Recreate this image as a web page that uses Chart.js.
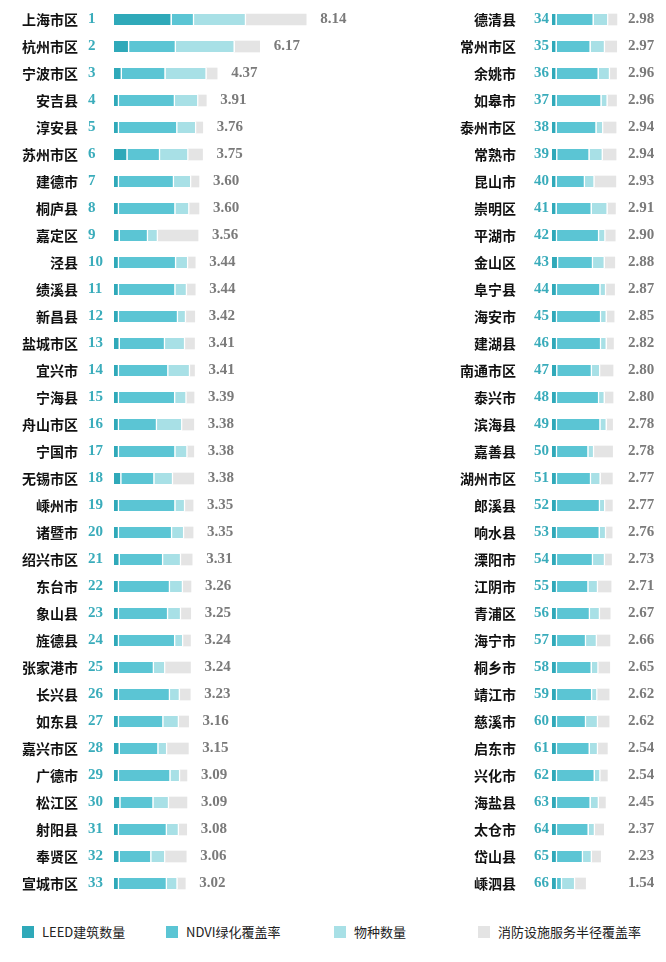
<!DOCTYPE html>
<html><head><meta charset="utf-8">
<script src="https://cdn.jsdelivr.net/npm/chart.js@4"></script>
<style>
body{margin:0;width:666px;height:962px;background:#fff;position:relative;overflow:hidden;font-family:"Noto Sans CJK SC",sans-serif}
.cv{position:absolute}
#legend{position:absolute;top:922px;left:0;width:666px;height:20px;font-size:13px;color:#222}
#legend span{position:absolute;top:0;line-height:20px}
#legend i{position:absolute;top:4px;width:12px;height:12px}
</style></head>
<body>
<div class="cv" style="left:0;top:6px;width:360px;height:891px"><canvas id="c1"></canvas></div>
<div class="cv" style="left:440px;top:6px;width:226px;height:891px"><canvas id="c2"></canvas></div>
<div id="legend">
<i style="left:22px;background:#2fa9b9"></i><span style="left:42px">LEED建筑数量</span>
<i style="left:166px;background:#5bc5d4"></i><span style="left:186px">NDVI绿化覆盖率</span>
<i style="left:334px;background:#a8e0e6"></i><span style="left:354px">物种数量</span>
<i style="left:478px;background:#e4e4e4"></i><span style="left:498px">消防设施服务半径覆盖率</span>
</div>
<script>
// 区县名称与总分
const names = ['上海市区','杭州市区','宁波市区','安吉县','淳安县','苏州市区','建德市','桐庐县','嘉定区','泾县','绩溪县','新昌县','盐城市区','宜兴市','宁海县','舟山市区','宁国市','无锡市区','嵊州市','诸暨市','绍兴市区','东台市','象山县','旌德县','张家港市','长兴县','如东县','嘉兴市区','广德市','松江区','射阳县','奉贤区','宣城市区',
  '德清县','常州市区','余姚市','如皋市','泰州市区','常熟市','昆山市','崇明区','平湖市','金山区','阜宁县','海安市','建湖县','南通市区','泰兴市','滨海县','嘉善县','湖州市区','郎溪县','响水县','溧阳市','江阴市','青浦区','海宁市','桐乡市','靖江市','慈溪市','启东市','兴化市','海盐县','太仓市','岱山县','嵊泗县'];
const totals = [8.14,6.17,4.37,3.91,3.76,3.75,3.60,3.60,3.56,3.44,3.44,3.42,3.41,3.41,3.39,3.38,3.38,3.38,3.35,3.35,3.31,3.26,3.25,3.24,3.24,3.23,3.16,3.15,3.09,3.09,3.08,3.06,3.02,
  2.98,2.97,2.96,2.96,2.94,2.94,2.93,2.91,2.90,2.88,2.87,2.85,2.82,2.80,2.80,2.78,2.78,2.77,2.77,2.76,2.73,2.71,2.67,2.66,2.65,2.62,2.62,2.54,2.54,2.45,2.37,2.23,1.54];
const leed = [2.44,0.64,0.33,0.21,0.21,0.57,0.21,0.21,0.24,0.21,0.21,0.21,0.24,0.21,0.21,0.21,0.21,0.31,0.21,0.21,0.24,0.21,0.21,0.21,0.21,0.21,0.21,0.24,0.21,0.27,0.21,0.24,0.21,
  0.21,0.21,0.21,0.21,0.21,0.24,0.21,0.21,0.23,0.28,0.23,0.23,0.23,0.24,0.23,0.23,0.23,0.23,0.23,0.23,0.23,0.23,0.23,0.23,0.23,0.23,0.23,0.23,0.23,0.23,0.23,0.23,0.23];
const ndvi = [0.95,1.98,1.85,2.37,2.47,1.38,2.33,2.39,1.20,2.42,2.39,2.50,1.92,2.09,2.38,1.61,2.39,1.40,2.39,2.25,1.84,2.16,2.08,2.38,1.48,2.16,1.88,1.64,2.18,1.40,2.03,1.34,2.03,
  1.70,1.56,1.93,2.06,1.83,1.48,1.30,1.61,1.93,1.60,1.99,2.02,2.02,1.59,1.93,1.99,1.44,1.56,1.97,1.96,1.65,1.44,1.51,1.33,1.59,1.61,1.33,1.50,1.73,1.54,1.45,1.19,0.23];
const species = [2.20,2.49,1.74,0.99,0.80,1.20,0.73,0.59,0.42,0.51,0.49,0.34,0.85,0.92,0.48,1.07,0.51,0.79,0.41,0.51,0.76,0.55,0.55,0.34,0.48,0.42,0.66,0.37,0.41,0.66,0.51,0.59,0.45,
  0.67,0.66,0.52,0.28,0.31,0.61,0.44,0.73,0.29,0.54,0.26,0.26,0.26,0.38,0.26,0.29,0.26,0.44,0.24,0.29,0.55,0.44,0.46,0.50,0.31,0.24,0.55,0.38,0.26,0.38,0.29,0.41,0.60];
const fire = totals.map((t, i) => Math.max(0, +(t - leed[i] - ndvi[i] - species[i]).toFixed(2)));

const colors = ['#2fa9b9', '#5bc5d4', '#a8e0e6', '#e4e4e4'];
const labelsPlugin = {
  id: 'rowLabels',
  afterDatasetsDraw(chart, args, opts) {
    const ctx = chart.ctx, y = chart.scales.y, x = chart.scales.x;
    ctx.save();
    ctx.textBaseline = 'middle';
    opts.rows.forEach((r, i) => {
      const py = y.getPixelForValue(i);
      ctx.fillStyle = '#111';
      ctx.textAlign = 'right';
      ctx.font = 'bold 14px "Noto Sans CJK SC"';
      ctx.fillText(names[r], opts.nameX, py);
      ctx.fillStyle = '#3aacbb';
      ctx.textAlign = 'left';
      ctx.font = 'bold 15px "Liberation Serif"';
      ctx.fillText(String(r + 1), opts.rankX, py);
      ctx.fillStyle = '#7a7a7a';
      ctx.fillText(totals[r].toFixed(2), opts.valueX != null ? opts.valueX : x.getPixelForValue(totals[r]) + 14, py);
    });
    ctx.restore();
  }
};

function makeChart(id, from, to, max, padLeft, nameX, rankX, valueX) {
  const idx = [];
  for (let i = from; i < to; i++) idx.push(i);
  const sets = [leed, ndvi, species, fire].map((arr, k) => ({
    data: idx.map(i => arr[i]),
    backgroundColor: colors[k],
    borderColor: '#fff',
    borderWidth: k < 3 ? { right: 1.5 } : 0,
    borderSkipped: false,
    barThickness: 11
  }));
  new Chart(document.getElementById(id), {
    type: 'bar',
    data: { labels: idx.map(i => names[i]), datasets: sets },
    options: {
      indexAxis: 'y',
      responsive: true,
      maintainAspectRatio: false,
      animation: false,
      layout: { padding: { left: padLeft, right: 0, top: 0, bottom: 0 } },
      scales: {
        x: { stacked: true, min: 0, max: max, display: false },
        y: { stacked: true, display: false }
      },
      plugins: {
        legend: { display: false },
        tooltip: { enabled: false },
        rowLabels: { rows: idx, nameX: nameX, rankX: rankX, valueX: valueX }
      }
    },
    plugins: [labelsPlugin]
  });
}

makeChart('c1', 0, 33, 10.42, 114, 78, 88, null);
makeChart('c2', 33, 66, 5.23, 112, 76, 94, 188);
</script>
</body></html>
